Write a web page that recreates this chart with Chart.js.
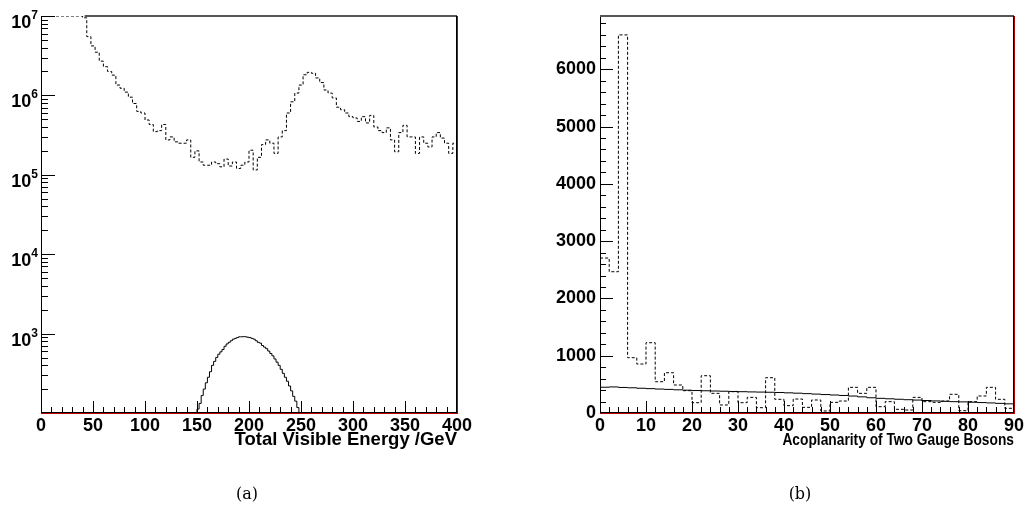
<!DOCTYPE html>
<html>
<head>
<meta charset="utf-8">
<script src="https://cdn.jsdelivr.net/npm/chart.js@4/dist/chart.umd.min.js"></script>
<style>
  html, body { margin:0; padding:0; background:#fff; }
  #wrap { position:relative; width:1026px; height:509px; overflow:hidden; background:#fff; }
  .pane { position:absolute; top:0; width:513px; height:509px; }
  .cap { position:absolute; top:484px; font-family:"DejaVu Serif","Liberation Serif",serif; font-size:16px; color:#000; width:60px; text-align:center; }
</style>
</head>
<body>
<div id="wrap">
  <div class="pane" style="left:0"><canvas id="c1" width="513" height="509"></canvas></div>
  <div class="pane" style="left:513px"><canvas id="c2" width="513" height="509"></canvas></div>
  <div class="cap" style="left:217px">(a)</div>
  <div class="cap" style="left:770px">(b)</div>
</div>
<script>
// ---------------- DATA ----------------
// (a) Total visible energy, background (dashed), 4 GeV bins from 0 to 400
const energyStart = 0;
const energyBinWidth = 4;
const energyBackground = [
  1e7,1e7,1e7,1e7,1e7,1e7,1e7,1e7,1e7,1e7,
  9.5e6,5.5e6,4.2e6,3.5e6,2.7e6,2.3e6,2.0e6,1.8e6,1.35e6,1.23e6,
  1.1e6,9.5e5,7.9e5,6.3e5,6.0e5,4.9e5,4.3e5,3.5e5,3.6e5,4.3e5,
  2.75e5,3.0e5,2.6e5,2.5e5,2.5e5,2.75e5,1.66e5,2.0e5,1.45e5,1.32e5,
  1.32e5,1.45e5,1.38e5,1.26e5,1.58e5,1.29e5,1.45e5,1.2e5,1.32e5,1.45e5,
  2.04e5,1.15e5,1.66e5,2.4e5,2.75e5,2.5e5,1.86e5,3.0e5,3.6e5,6.0e5,
  8.3e5,1.07e6,1.35e6,1.82e6,1.95e6,1.9e6,1.66e6,1.45e6,1.17e6,1.07e6,
  9.3e5,7.1e5,6.6e5,6.0e5,5.4e5,5.2e5,4.7e5,5.4e5,4.5e5,5.6e5,
  4.0e5,3.6e5,3.4e5,3.9e5,2.75e5,1.95e5,3.4e5,4.2e5,3.0e5,3.0e5,
  1.86e5,3.0e5,2.5e5,2.24e5,3.0e5,3.4e5,2.9e5,2.5e5,1.86e5,2.5e5
];
// (a) signal (solid), 2 GeV bins from 150 to 250
const signalStart = 150;
const signalBinWidth = 2;
const energySignal = [
  112,132,166,200,240,282,331,398,447,501,
  550,589,631,692,741,776,813,851,871,891,
  912,912,915,912,900,891,871,851,813,776,
  759,708,676,646,603,562,525,479,437,398,
  355,316,282,251,219,190,162,141,117,98
];
const energyTicks = [0,50,100,150,200,250,300,350,400];
const logDecades = [3,4,5,6,7];

// (b) Acoplanarity, 2 degree bins from 0 to 90
const acopStart = 0;
const acopBinWidth = 2;
const acopBackground = [
  2705,2466,6600,965,855,1227,546,703,489,390,
  180,651,343,140,372,180,273,93,616,239,
  128,244,99,227,35,186,209,448,343,448,
  110,198,64,52,273,198,186,209,326,40,
  198,297,448,239,82
];
const acopSignal = [
  450,455,446,440,432,425,418,412,405,398,
  392,388,384,380,376,372,368,365,362,358,
  352,346,338,330,322,314,306,296,282,266,
  256,248,240,232,226,218,211,204,198,194,
  188,182,176,168,160
];
const acopTicksX = [0,10,20,30,40,50,60,70,80,90];
const acopTicksY = [0,1000,2000,3000,4000,5000,6000];
const acopTitle = 'Acoplanarity of Two Gauge Bosons';

// ---------------- HELPERS ----------------
function histSteps(start, width, values, base) {
  const pts = [];
  if (base !== undefined) pts.push({x:start, y:base});
  values.forEach((v,i) => pts.push({x:start + i*width, y:v}));
  const end = start + values.length*width;
  pts.push({x:end, y:values[values.length-1]});
  if (base !== undefined) pts.push({x:end, y:base});
  return pts;
}
function range(a, b, s) { const r=[]; for (let v=a; v<=b+1e-9; v+=s) r.push(+v.toFixed(6)); return r; }

const FONT = '"Liberation Sans", Arial, Helvetica, sans-serif';
Chart.defaults.font.family = FONT;
Chart.defaults.color = '#000';

const frameAndTicks = {
  id: 'frameAndTicks',
  afterDatasetsDraw(chart, args, opts) {
    const ctx = chart.ctx, a = chart.chartArea;
    ctx.save();
    ctx.lineWidth = 1;
    ctx.strokeStyle = '#000';
    ['x','y'].forEach(axis => {
      const sc = chart.scales[axis];
      const cfg = opts[axis];
      [[cfg.major, cfg.majorLen],[cfg.minor, cfg.minorLen]].forEach(([vals, len]) => {
        vals.forEach(v => {
          const p = Math.round(sc.getPixelForValue(v)) + 0.5;
          ctx.beginPath();
          if (axis === 'x') { ctx.moveTo(p, a.bottom); ctx.lineTo(p, a.bottom - len); }
          else { ctx.moveTo(a.left, p); ctx.lineTo(a.left + len, p); }
          ctx.stroke();
        });
      });
    });
    // frame
    ctx.strokeStyle = '#000';
    ctx.beginPath(); ctx.moveTo(a.left + 0.5, a.top); ctx.lineTo(a.left + 0.5, a.bottom); ctx.stroke();
    ctx.strokeStyle = '#555';
    ctx.lineWidth = 2;
    const topStart = opts.topStart !== undefined ? chart.scales.x.getPixelForValue(opts.topStart) : a.left;
    ctx.beginPath(); ctx.moveTo(topStart, a.top); ctx.lineTo(a.right, a.top); ctx.stroke();
    ctx.lineWidth = 1;
    ctx.strokeStyle = '#000';
    ctx.beginPath(); ctx.moveTo(a.right - 0.5, a.top); ctx.lineTo(a.right - 0.5, a.bottom); ctx.stroke();
    ctx.strokeStyle = '#b00000';
    ctx.beginPath(); ctx.moveTo(a.right + 0.5, a.top); ctx.lineTo(a.right + 0.5, a.bottom + 1); ctx.stroke();
    ctx.strokeStyle = '#000';
    ctx.beginPath(); ctx.moveTo(a.left, a.bottom - 0.5); ctx.lineTo(a.right, a.bottom - 0.5); ctx.stroke();
    ctx.strokeStyle = '#c00000';
    ctx.beginPath(); ctx.moveTo(a.left, a.bottom + 0.5); ctx.lineTo(a.right + 1, a.bottom + 0.5); ctx.stroke();
    ctx.restore();
  }
};

const logLabels = {
  id: 'logLabels',
  afterDraw(chart, args, opts) {
    if (!opts || !opts.decades) return;
    const ctx = chart.ctx, sc = chart.scales.y, a = chart.chartArea;
    ctx.save();
    ctx.fillStyle = '#000';
    ctx.textBaseline = 'alphabetic';
    opts.decades.forEach(e => {
      const y = sc.getPixelForValue(Math.pow(10, e));
      ctx.font = 'bold 12px ' + FONT;
      const ew = ctx.measureText(String(e)).width;
      const right = a.left - 3;
      ctx.textAlign = 'left';
      ctx.fillText(String(e), right - ew, y + 3);
      ctx.font = 'bold 18px ' + FONT;
      ctx.textAlign = 'right';
      ctx.fillText('10', right - ew, y + 12);
    });
    ctx.restore();
  }
};

// condensed axis title (the reference draws it horizontally squeezed)
const squeezedTitle = {
  id: 'squeezedTitle',
  afterDraw(chart, args, opts) {
    if (!opts || !opts.text) return;
    const ctx = chart.ctx, a = chart.chartArea;
    ctx.save();
    ctx.fillStyle = '#000';
    ctx.font = 'bold ' + opts.size + 'px ' + FONT;
    ctx.textAlign = 'right';
    ctx.textBaseline = 'middle';
    ctx.translate(a.right, a.bottom + opts.dy);
    ctx.scale(opts.sx, 1);
    ctx.fillText(opts.text, 0, 0);
    ctx.restore();
  }
};

function fixWidth(w) { return s => { s.width = w; }; }
function fixHeight(h) { return s => { s.height = h; }; }
function setTicks(list) { return s => { s.ticks = list.map(v => ({value:v})); }; }
const plainLabel = v => String(v);

// ---------------- CHART (a) ----------------
new Chart(document.getElementById('c1'), {
  type: 'line',
  data: {
    datasets: [
      { data: histSteps(energyStart, energyBinWidth, energyBackground), stepped: 'before',
        borderColor:'#000', borderWidth:1, borderDash:[3,2], pointRadius:0, fill:false },
      { data: histSteps(signalStart, signalBinWidth, energySignal, 100), stepped: 'before',
        borderColor:'#000', borderWidth:1, pointRadius:0, fill:false }
    ]
  },
  options: {
    responsive:false, animation:false, devicePixelRatio:1,
    layout: { padding: { top:16, right:56, left:0, bottom:0 } },
    plugins: {
      legend:{display:false}, tooltip:{enabled:false},
      frameAndTicks: {
        topStart: 42,
        x: { major: energyTicks, majorLen:12, minor: range(0,400,10), minorLen:6 },
        y: { major: logDecades.map(e => Math.pow(10,e)),
             majorLen:14,
             minor: [2,3,4,5,6,7,8,9].flatMap(m => [2,3,4,5,6].map(e => m*Math.pow(10,e))),
             minorLen:7 }
      },
      logLabels: { decades: logDecades }
    },
    scales: {
      x: { type:'linear', min:0, max:400,
           afterBuildTicks: setTicks(energyTicks), afterFit: fixHeight(96),
           grid:{display:false, drawTicks:false}, border:{display:false},
           ticks:{ font:{size:18, weight:'bold'}, color:'#000', padding:2, maxRotation:0, autoSkip:false, callback: plainLabel },
           title:{ display:true, text:'Total Visible Energy /GeV', align:'end', color:'#000',
                   font:{size:18.5, weight:'bold'}, padding:{top:0, bottom:58} } },
      y: { type:'logarithmic', min:100, max:1e7,
           afterBuildTicks: setTicks(logDecades.map(e => Math.pow(10,e))), afterFit: fixWidth(41),
           grid:{display:false, drawTicks:false}, border:{display:false},
           ticks:{ display:false } }
    }
  },
  plugins: [frameAndTicks, logLabels]
});

// ---------------- CHART (b) ----------------
new Chart(document.getElementById('c2'), {
  type: 'line',
  data: {
    datasets: [
      { data: histSteps(acopStart, acopBinWidth, acopBackground, 0), stepped: 'before',
        borderColor:'#000', borderWidth:1, borderDash:[3,2], pointRadius:0, fill:false },
      { data: histSteps(acopStart, acopBinWidth, acopSignal), stepped: 'before',
        borderColor:'#000', borderWidth:1, pointRadius:0, fill:false }
    ]
  },
  options: {
    responsive:false, animation:false, devicePixelRatio:1,
    layout: { padding: { top:16, right:11, left:0, bottom:0 } },
    plugins: {
      legend:{display:false}, tooltip:{enabled:false},
      frameAndTicks: {
        x: { major: acopTicksX, majorLen:12, minor: range(0,90,2), minorLen:6 },
        y: { major: acopTicksY, majorLen:13, minor: range(0,6800,200), minorLen:6 }
      },
      squeezedTitle: { text: acopTitle, size:17, sx:0.81, dy:27 }
    },
    scales: {
      x: { type:'linear', min:0, max:90,
           afterBuildTicks: setTicks(acopTicksX), afterFit: fixHeight(96),
           grid:{display:false, drawTicks:false}, border:{display:false},
           ticks:{ font:{size:18, weight:'bold'}, color:'#000', padding:2, maxRotation:0, autoSkip:false, callback: plainLabel } },
      y: { type:'linear', min:0, max:6930,
           afterBuildTicks: setTicks(acopTicksY), afterFit: fixWidth(87),
           grid:{display:false, drawTicks:false}, border:{display:false},
           ticks:{ font:{size:18, weight:'bold'}, color:'#000', padding:4, callback: plainLabel } }
    }
  },
  plugins: [frameAndTicks, squeezedTitle]
});
</script>
</body>
</html>
